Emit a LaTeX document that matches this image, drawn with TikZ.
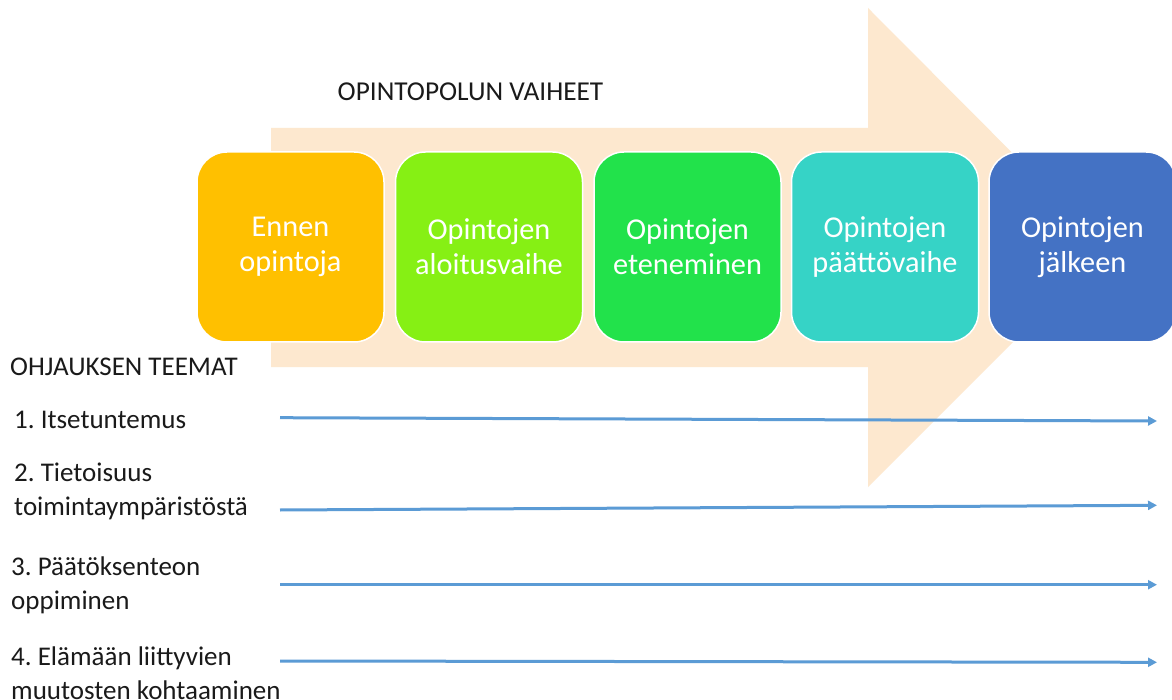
\documentclass[tikz,border=0pt]{standalone}
\usepackage{fontspec}
\setmainfont{Carlito}
\usetikzlibrary{arrows.meta}
\definecolor{cOne}{HTML}{FFC000}
\definecolor{cTwo}{HTML}{86F014}
\definecolor{cThree}{HTML}{22E24B}
\definecolor{cFour}{HTML}{36D3C6}
\definecolor{cFive}{HTML}{4472C4}
\definecolor{beige}{HTML}{FDE8CF}
\definecolor{lineblue}{HTML}{5B9BD5}
\definecolor{txt}{HTML}{1A1A1A}
\tikzset{
  phase/.style={draw=white, line width=1.5pt, rounded corners=30pt,
    minimum width=187pt, minimum height=190pt, inner sep=0pt,
    text=white, align=center, font=\fontsize{30.3}{35}\selectfont},
  theme/.style={draw=lineblue, line width=3pt, -{Triangle[length=9pt,width=9pt]}},
  lefttext/.style={anchor=west, inner sep=0pt, align=left, text=txt,
    font=\fontsize{27}{34}\selectfont},
}
\begin{document}
\frenchspacing
\begin{tikzpicture}[x=1pt,y=-1pt]
\useasboundingbox[fill=white] (0,0) rectangle (1172,700);
% big background arrow
\fill[beige] (271,128) -- (868,128) -- (868,8) -- (1107,248) -- (868,487)
  -- (868,367) -- (271,367) -- cycle;
\node[text=txt, font=\fontsize{27.3}{30}\selectfont, inner sep=0pt] (title) at (470.5,92) {OPINTOPOLUN VAIHEET};
% phase boxes
\node[phase, fill=cOne]   (b1) at (290.5,247) {Ennen\\opintoja};
\node[phase, fill=cTwo]   (b2) at (489,247)   {Opintojen\\aloitusvaihe};
\node[phase, fill=cThree] (b3) at (687.5,247) {Opintojen\\eteneminen};
\node[phase, fill=cFour]  (b4) at (885,247)   {Opintojen\\päättövaihe};
\node[phase, fill=cFive]  (b5) at (1082.5,247) {Opintojen\\jälkeen};
% left texts
\node[lefttext] (head) at (10,367) {OHJAUKSEN TEEMAT};
\node[lefttext] (t1) at (14,420) {1. Itsetuntemus};
\node[lefttext] (t2) at (14,491) {2. Tietoisuus\\toimintaympäristöstä};
\node[lefttext] (t3) at (11,585) {3. Päätöksenteon\\oppiminen};
\node[lefttext] (t4) at (11,673) {4. Elämään liittyvien\\muutosten kohtaaminen};
% theme lines
\coordinate (s1) at (280,417.7); \coordinate (e1) at (1157,421);
\coordinate (s2) at (280,510);   \coordinate (e2) at (1157,505.3);
\coordinate (s3) at (280,584.7); \coordinate (e3) at (1157,584.7);
\coordinate (s4) at (280,661);   \coordinate (e4) at (1157,662.3);
\draw[theme] (s1) -- (e1);
\draw[theme] (s2) -- (e2);
\draw[theme] (s3) -- (e3);
\draw[theme] (s4) -- (e4);
\end{tikzpicture}
\end{document}
